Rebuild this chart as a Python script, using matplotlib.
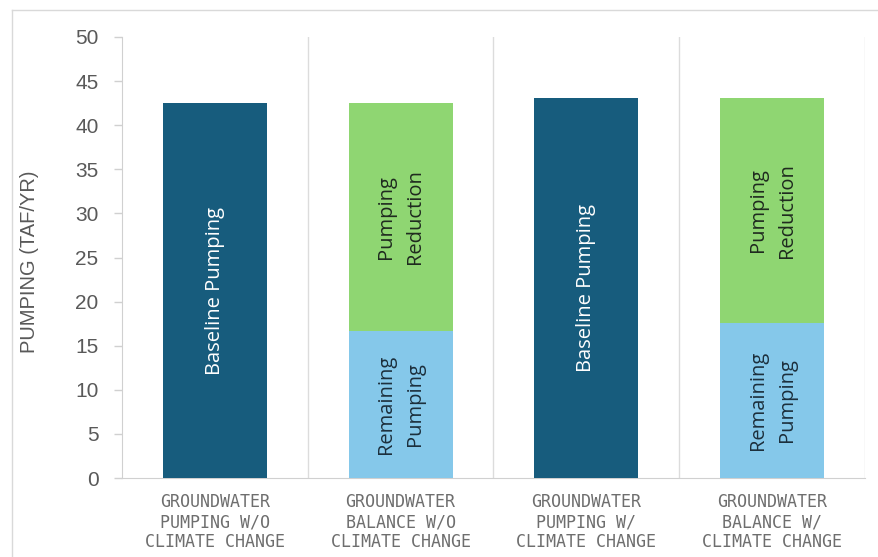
import matplotlib
matplotlib.use("Agg")
import matplotlib.pyplot as plt
from matplotlib.lines import Line2D

categories = ["GROUNDWATER\nPUMPING W/O\nCLIMATE CHANGE",
              "GROUNDWATER\nBALANCE W/O\nCLIMATE CHANGE",
              "GROUNDWATER\nPUMPING W/\nCLIMATE CHANGE",
              "GROUNDWATER\nBALANCE W/\nCLIMATE CHANGE"]
baseline = [42.5, 0, 43.1, 0]
remaining = [0, 16.7, 0, 17.6]
reduction = [0, 25.8, 0, 25.5]
yticks = [0, 5, 10, 15, 20, 25, 30, 35, 40, 45, 50]

c_base = "#175C7D"
c_rem = "#85C8EA"
c_red = "#8FD672"

fig = plt.figure(figsize=(8.79, 5.57), dpi=100)
ax = fig.add_axes([122/879, 1-478/557, (865-122)/879, (478-37)/557])

x = list(range(len(categories)))
w = 0.56
ax.bar(x, baseline, width=w, color=c_base, zorder=3)
ax.bar(x, remaining, width=w, color=c_rem, zorder=3)
ax.bar(x, reduction, width=w, bottom=remaining, color=c_red, zorder=3)

for i in x:
    if baseline[i] > 0:
        ax.text(i, baseline[i]/2, "Baseline Pumping", rotation=90, ha="center", va="center",
                color="white", fontsize=14.5, family=["Open Sans", "DejaVu Sans"], zorder=4)
    if remaining[i] > 0:
        ax.text(i, remaining[i]/2, "Remaining\nPumping", rotation=90, ha="center", va="center",
                color="#1c2f3c", fontsize=14.5, family=["Open Sans", "DejaVu Sans"],
                linespacing=1.6, zorder=4)
    if reduction[i] > 0:
        ax.text(i, remaining[i] + reduction[i]/2, "Pumping\nReduction", rotation=90, ha="center",
                va="center", color="#1f2a1f", fontsize=14.5, family=["Open Sans", "DejaVu Sans"],
                linespacing=1.6, zorder=4)

ax.set_xlim(-0.5, 3.5)
ax.set_ylim(0, 50)
ax.set_yticks(yticks)
ax.set_yticklabels([str(v) for v in yticks], fontsize=15, color="#595959",
                   family=["Liberation Sans", "DejaVu Sans"])
ax.tick_params(axis="y", length=6, width=1, color="#d0d0d0", pad=11)
ax.set_xticks(x)
ax.set_xticklabels(categories, fontsize=12, color="#6e6e6e", linespacing=1.15,
                   family=["DejaVu Sans Mono"])
ax.tick_params(axis="x", length=0, pad=11)

for s in ["top", "right"]:
    ax.spines[s].set_visible(False)
ax.spines["left"].set_color("#d0d0d0")
ax.spines["bottom"].set_color("#d0d0d0")
for b in [0.5, 1.5, 2.5, 3.5]:
    ax.axvline(b, color="#dcdcdc", lw=1, zorder=1)

fig.text(30/879, 1-262/557, "PUMPING (TAF/YR)", rotation=90, ha="center", va="center",
         fontsize=14.5, color="#595959", family=["Liberation Sans", "DejaVu Sans"])

# outer frame (left and top edges visible)
fig.add_artist(Line2D([12/879, 12/879], [0, 1-10/557], transform=fig.transFigure,
                      color="#d9d9d9", lw=1))
fig.add_artist(Line2D([12/879, 1], [1-10/557, 1-10/557], transform=fig.transFigure,
                      color="#d9d9d9", lw=1))

fig.savefig("out.png", dpi=100)
